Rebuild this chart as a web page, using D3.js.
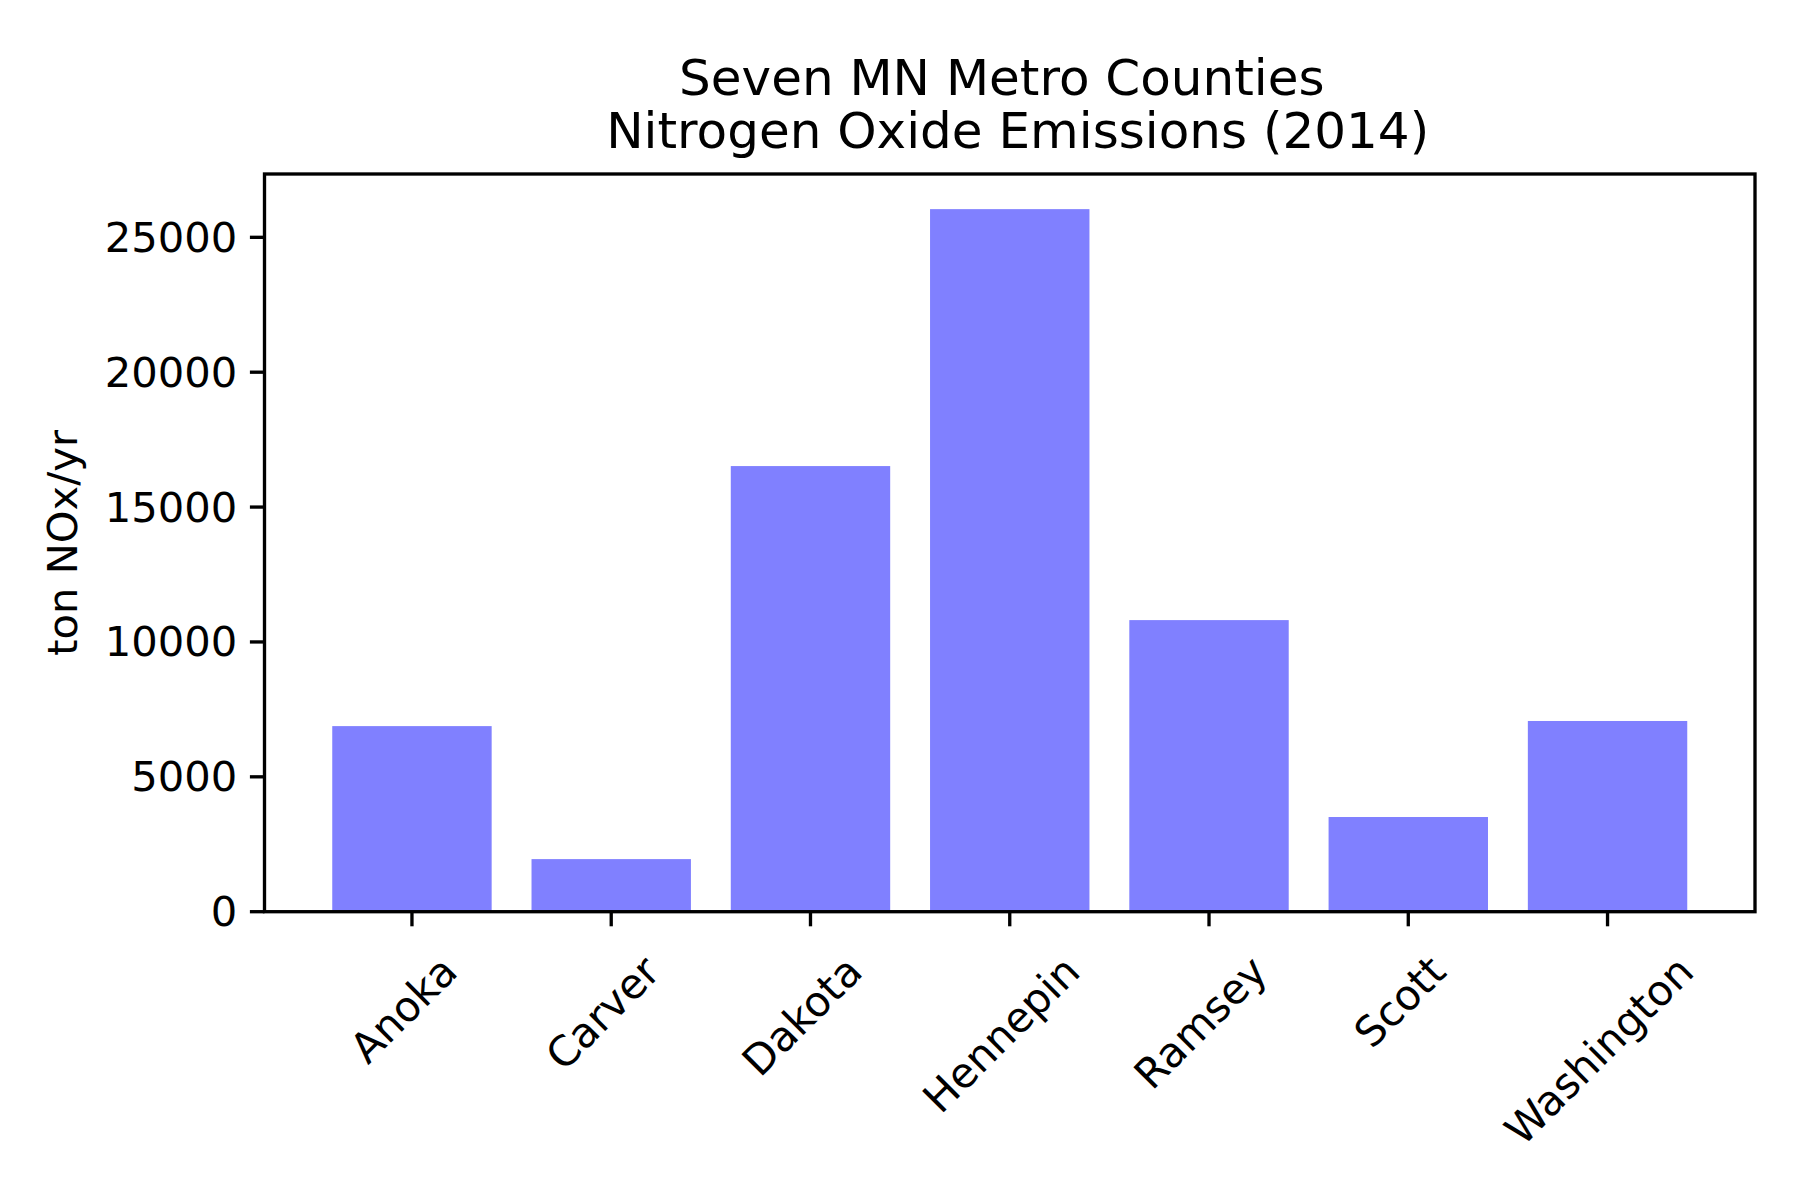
<!DOCTYPE html>
<html>
<head>
<meta charset="utf-8">
<script src="https://cdn.jsdelivr.net/npm/d3@7"></script>
<style>
  html, body { margin: 0; padding: 0; background: #fff; }
  svg { display: block; }
  text { font-family: "DejaVu Sans", sans-serif; fill: #000; white-space: pre; }
</style>
</head>
<body>
<svg id="chart" width="1800" height="1200"></svg>
<script>
const counties = ["Anoka", "Carver", "Dakota", "Hennepin", "Ramsey", "Scott", "Washington"];
const emissions = [6880, 1950, 16520, 26045, 10810, 3510, 7070];
const yTicks = [0, 5000, 10000, 15000, 20000, 25000];
const titleLines = ["Seven MN Metro Counties ", " Nitrogen Oxide Emissions (2014)"];
const yLabel = "ton NOx/yr";

(function () {
const axL = 264.5, axR = 1755, axT = 174, axB = 911.7;
const tickLen = 14.6, pad = 14.6, lw = 3.33;
const fs = 41.67;

const svg = d3.select("#chart");

// x: linear positions matching bar(width=0.8) with 5% margins
const n = counties.length;
const x0 = -0.4, x1 = (n - 1) + 0.4, span = x1 - x0;
const x = d3.scaleLinear().domain([x0 - span * 0.05, x1 + span * 0.05]).range([axL, axR]);
const ymax = d3.max(emissions) * 1.05;
const y = d3.scaleLinear().domain([0, ymax]).range([axB, axT]);

// bars
svg.append("g").selectAll("rect").data(emissions).join("rect")
  .attr("x", (d, i) => x(i - 0.4))
  .attr("width", (d, i) => x(i + 0.4) - x(i - 0.4))
  .attr("y", d => y(d))
  .attr("height", d => y(0) - y(d))
  .attr("fill", "#8080ff");

// frame
svg.append("rect")
  .attr("x", axL).attr("y", axT)
  .attr("width", axR - axL).attr("height", axB - axT)
  .attr("fill", "none").attr("stroke", "#000").attr("stroke-width", lw);

// y ticks
const yg = svg.append("g");
yTicks.forEach(t => {
  yg.append("line").attr("x1", axL - tickLen).attr("x2", axL)
    .attr("y1", y(t)).attr("y2", y(t))
    .attr("stroke", "#000").attr("stroke-width", lw);
  yg.append("text").attr("x", axL - tickLen - pad + 2).attr("y", y(t))
    .attr("text-anchor", "end").attr("dominant-baseline", "central")
    .attr("font-size", fs).text(t);
});

// x ticks + rotated labels
const xg = svg.append("g");
counties.forEach((c, i) => {
  xg.append("line").attr("x1", x(i)).attr("x2", x(i))
    .attr("y1", axB).attr("y2", axB + tickLen)
    .attr("stroke", "#000").attr("stroke-width", lw);
  const t = xg.append("text").attr("font-size", fs)
    .attr("text-anchor", "middle").attr("dominant-baseline", "central")
    .attr("dx", -10).attr("dy", -2)
    .text(c);
  const w = t.node().getComputedTextLength();
  const h = fs * 1.17;
  const bw = (w + h) * Math.SQRT1_2;
  const topY = axB + tickLen + pad;
  t.attr("transform", `translate(${x(i)},${topY + bw / 2}) rotate(-45)`);
});

// title
const cx = (axL + axR) / 2;
svg.append("text").attr("x", cx).attr("y", 95).attr("text-anchor", "middle")
  .attr("font-size", 50).text(titleLines[0]);
svg.append("text").attr("x", cx).attr("y", 148).attr("text-anchor", "middle")
  .attr("font-size", 50).text(titleLines[1]);

// y label
svg.append("text")
  .attr("transform", `translate(77,${(axT + axB) / 2}) rotate(-90)`)
  .attr("text-anchor", "middle").attr("font-size", fs).text(yLabel);
})();
</script>
</body>
</html>
